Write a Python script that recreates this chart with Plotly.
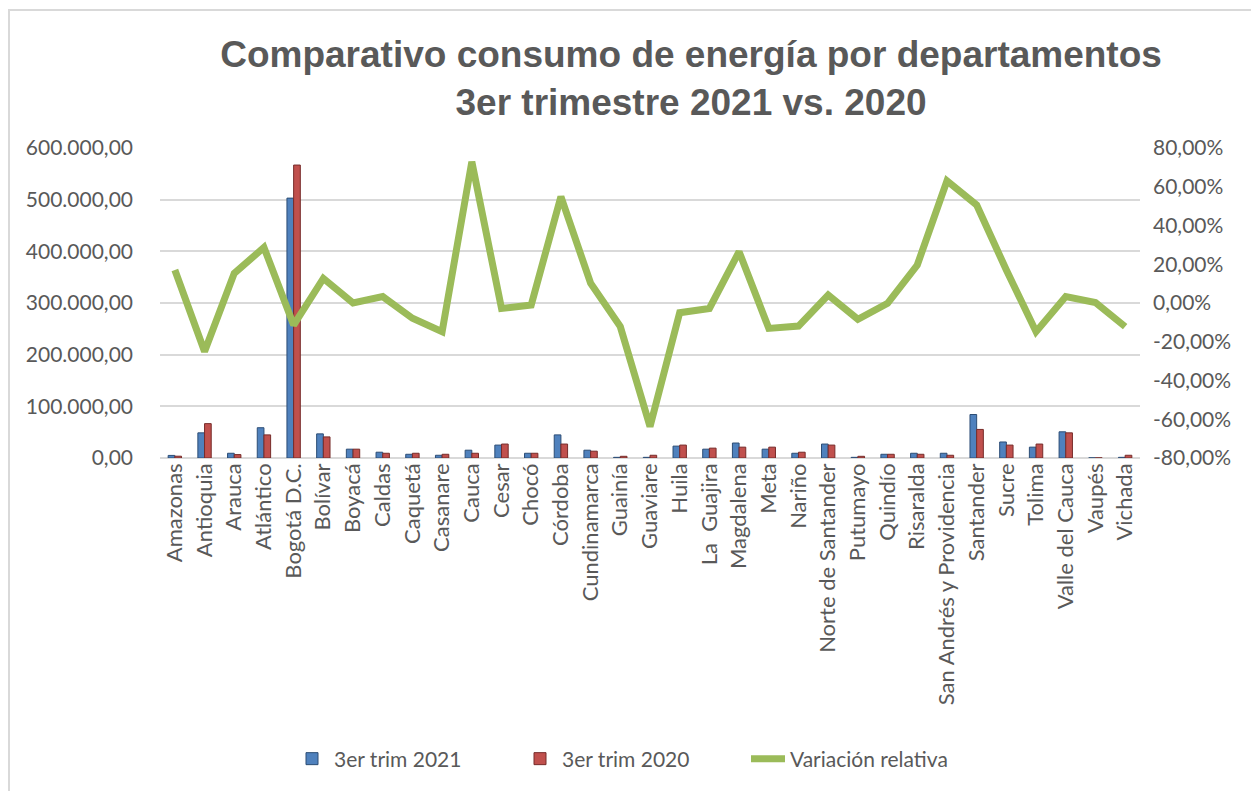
import plotly.graph_objects as go

departamentos = [
    "Amazonas", "Antioquia", "Arauca", "Atlántico", "Bogotá D.C.", "Bolívar",
    "Boyacá", "Caldas", "Caquetá", "Casanare", "Cauca", "Cesar", "Chocó",
    "Córdoba", "Cundinamarca", "Guainía", "Guaviare", "Huila", "La  Guajira",
    "Magdalena", "Meta", "Nariño", "Norte de Santander", "Putumayo", "Quindío",
    "Risaralda", "San Andrés y Providencia", "Santander", "Sucre", "Tolima",
    "Valle del Cauca", "Vaupés", "Vichada",
]

trim_2021 = [
    5000, 48700, 9200, 58600, 503000, 46700,
    17100, 11200, 7200, 5300, 15100, 25000, 9200,
    44700, 15100, 1300, 1300, 23000, 17100,
    29000, 17100, 9200, 27000, 1300, 7200,
    9200, 9200, 84200, 31000, 21000,
    50700, 300, 1300,
]

trim_2020 = [
    3500, 66500, 6600, 44700, 567000, 40800,
    17100, 9200, 9200, 7200, 9200, 27000, 9200,
    27000, 13200, 3300, 5300, 25000, 19100,
    21000, 21000, 11200, 25000, 3300, 7200,
    7200, 5300, 55300, 25000, 27000,
    48700, 300, 5300,
]

variacion = [
    0.17, -0.25, 0.153, 0.287, -0.114, 0.127,
    0.0, 0.033, -0.079, -0.148, 0.729, -0.028, -0.01,
    0.549, 0.102, -0.122, -0.638, -0.05, -0.028,
    0.265, -0.131, -0.119, 0.041, -0.084, -0.002,
    0.196, 0.631, 0.506, 0.17, -0.148,
    0.033, 0.002, -0.122,
]

left_ticks = [0, 100000, 200000, 300000, 400000, 500000, 600000]
right_ticks = [-0.8, -0.6, -0.4, -0.2, 0.0, 0.2, 0.4, 0.6, 0.8]
right_ticktext = [("%.2f" % (v * 100)).replace(".", ",") + "%" for v in right_ticks]

series_names = ["3er trim 2021", "3er trim 2020", "Variación relativa"]
title_lines = ["Comparativo consumo de energía por departamentos", "3er trimestre 2021 vs. 2020"]

BLUE = "#4F81BD"
RED = "#C0504D"
GREEN = "#9BBB59"
TXT = "#595959"
FONT = "Lato"

fig = go.Figure()
fig.add_trace(go.Bar(
    x=departamentos, y=trim_2021, name=series_names[0],
    marker=dict(color=BLUE, line=dict(color="#2C4D75", width=1)),
    yaxis="y",
))
fig.add_trace(go.Bar(
    x=departamentos, y=trim_2020, name=series_names[1],
    marker=dict(color=RED, line=dict(color="#772C2A", width=1)),
    yaxis="y",
))
fig.add_trace(go.Scatter(
    x=departamentos, y=variacion, name=series_names[2],
    mode="lines", line=dict(color=GREEN, width=7),
    yaxis="y2",
))

# page offset from default body margin
OFF = 8
W, H = 1251, 783
L, T = 152, 140
pw, ph = 980, 310
R = W - L - pw
B = H - T - ph

def px_x(p):
    return (p - OFF - L) / pw

def px_y(p):
    return (T + ph - (p - OFF)) / ph

fig.update_layout(
    width=W, height=H,
    margin=dict(l=L, r=R, t=T, b=B, pad=0),
    paper_bgcolor="white", plot_bgcolor="white",
    separators=",.",
    barmode="group", bargap=0.55, bargroupgap=0.0,
    font=dict(family=FONT, color=TXT, size=21),
    title=dict(
        text="<b>" + title_lines[0] + "<br>" + title_lines[1] + "</b>",
        x=0.546, xanchor="center", y=0.925, yanchor="top",
        font=dict(family="Liberation Sans", size=37, color=TXT),
    ),
    xaxis=dict(
        type="category", tickangle=-90, showgrid=False, showline=False,
        ticks="", tickfont=dict(size=22, color=TXT, family=FONT),
        range=[-0.5, len(departamentos) - 0.5],
    ),
    yaxis=dict(
        range=[0, 600000], tickvals=left_ticks, tickformat=",.2f",
        showgrid=True, gridcolor="#D9D9D9", gridwidth=2,
        zeroline=True, zerolinecolor="#D9D9D9", zerolinewidth=2,
        showline=False, ticks="", ticklabelstandoff=26,
        tickfont=dict(size=21, color=TXT, family=FONT),
    ),
    yaxis2=dict(
        overlaying="y", side="right", range=[-0.8, 0.8],
        tickvals=right_ticks, ticktext=right_ticktext,
        showgrid=False, zeroline=False, showline=False, ticks="",
        ticklabelstandoff=12,
        tickfont=dict(size=21, color=TXT, family=FONT),
    ),
    legend=dict(
        orientation="h", x=px_x(290), xanchor="left",
        y=px_y(759), yanchor="middle",
        font=dict(size=21, color=TXT, family=FONT),
        itemwidth=34, traceorder="normal",
        entrywidth=179, entrywidthmode="pixels",
    ),
    showlegend=True,
    shapes=[dict(
        type="rect", xref="paper", yref="paper",
        x0=px_x(9), x1=px_x(1257), y0=px_y(800), y1=px_y(10),
        line=dict(color="#D9D9D9", width=2), fillcolor="rgba(0,0,0,0)",
        layer="below",
    )],
)

fig.write_html("out.html")
